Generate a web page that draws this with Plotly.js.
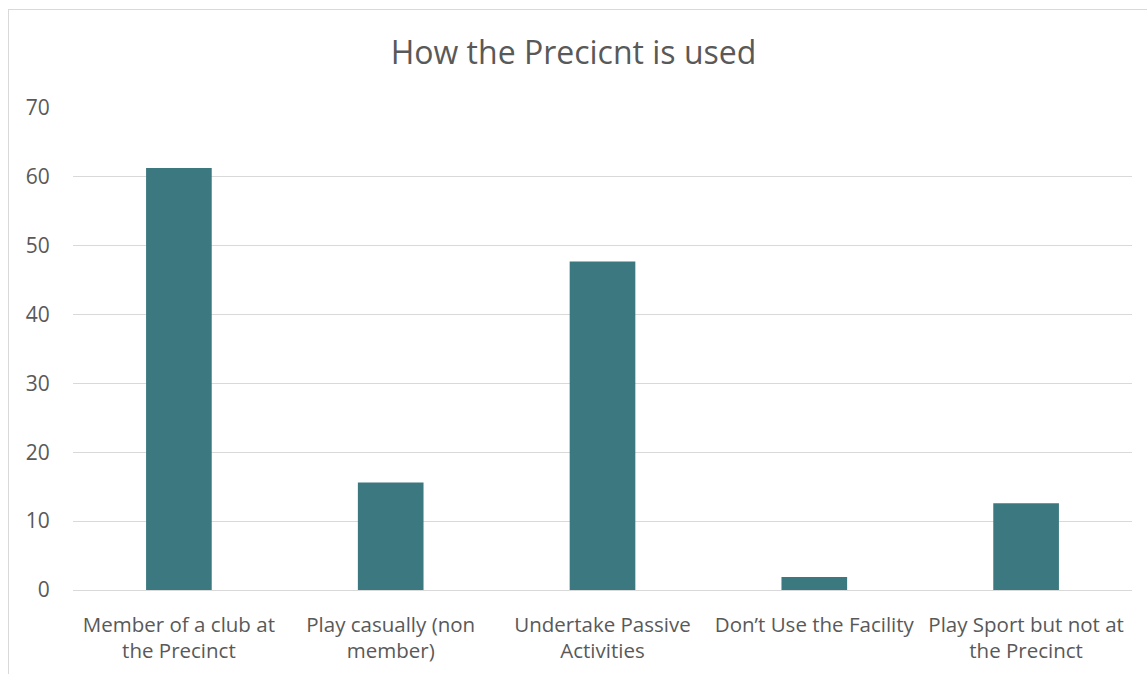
<!DOCTYPE html>
<html>
<head>
<meta charset="utf-8">
<script src="https://cdn.plot.ly/plotly-3.0.1.min.js"></script>
<style>
html,body{margin:0;padding:0;background:#fff;}
#wrap{position:relative;width:1147px;height:674px;overflow:hidden;}
#chart{width:1147px;height:674px;}
#frame{position:absolute;left:8px;top:9px;width:1200px;height:800px;border:1px solid #d9d9d9;pointer-events:none;}
</style>
</head>
<body>
<div id="wrap"><div id="chart"></div><div id="frame"></div></div>
<script>
const categories = [
  "Member of a club at<br>the Precinct",
  "Play casually (non<br>member)",
  "Undertake Passive<br>Activities",
  "Don’t Use the Facility",
  "Play Sport but not at<br>the Precinct"
];
const values = [61.3, 15.6, 47.7, 1.9, 12.6];
const yTicks = [0, 10, 20, 30, 40, 50, 60, 70];

const font = "Open Sans, Liberation Sans, sans-serif";
Plotly.newPlot('chart', [{
  type: 'bar',
  x: categories,
  y: values,
  marker: {color: '#3C7880'},
  hoverinfo: 'x+y'
}], {
  width: 1147, height: 674,
  margin: {l: 73, r: 15, t: 108, b: 84},
  paper_bgcolor: '#fff', plot_bgcolor: '#fff',
  bargap: 0.69,
  title: {text: 'How the Precicnt is used', font: {family: font, size: 32, color: '#595959'}, x: 0.5, xanchor: 'center', y: 0.921, yanchor: 'middle'},
  xaxis: {
    showgrid: false, zeroline: false, showline: false,
    tickfont: {family: font, size: 20.5, color: '#595959'},
    ticks: 'outside', ticklen: 16, tickcolor: 'rgba(0,0,0,0)', automargin: false
  },
  yaxis: {
    range: [0, 70], tickvals: yTicks, showgrid: true, gridcolor: '#d9d9d9', gridwidth: 1,
    zeroline: true, zerolinecolor: '#d9d9d9', zerolinewidth: 1,
    tickfont: {family: font, size: 21, color: '#595959'},
    ticks: 'outside', ticklen: 18, tickcolor: 'rgba(0,0,0,0)', automargin: false
  },
  showlegend: false
}, {displayModeBar: false, staticPlot: true});
</script>
</body>
</html>
